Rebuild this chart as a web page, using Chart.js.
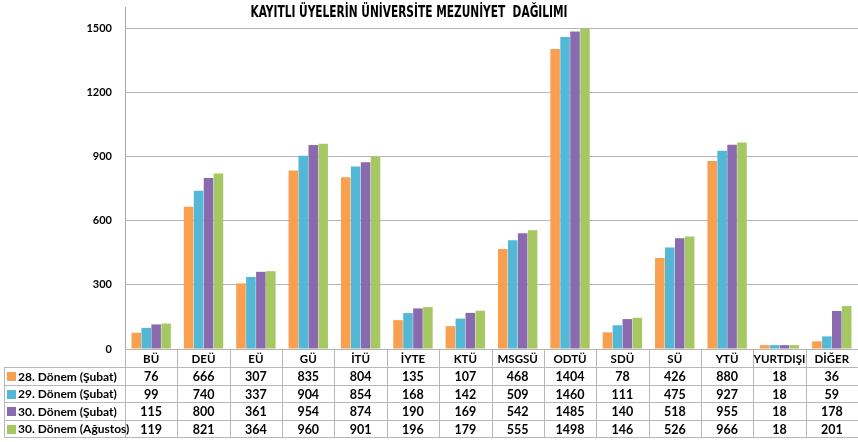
<!DOCTYPE html>
<html>
<head>
<meta charset="utf-8">
<script src="https://cdn.jsdelivr.net/npm/chart.js@4.4.0/dist/chart.umd.min.js"></script>
<style>
html,body{margin:0;padding:0;background:#fff;}
#wrap{width:858px;height:442px;position:relative;}
</style>
</head>
<body>
<div id="wrap"><canvas id="c" width="858" height="442"></canvas></div>
<script>
const title = "KAYITLI ÜYELERİN ÜNİVERSİTE MEZUNİYET  DAĞILIMI";
const categories = ["BÜ","DEÜ","EÜ","GÜ","İTÜ","İYTE","KTÜ","MSGSÜ","ODTÜ","SDÜ","SÜ","YTÜ","YURTDIŞI","DİĞER"];
const seriesNames = ["28. Dönem (Şubat)","29. Dönem (Şubat)","30. Dönem (Şubat)","30. Dönem (Ağustos)"];
const donem28Subat = [76,666,307,835,804,135,107,468,1404,78,426,880,18,36];
const donem29Subat = [99,740,337,904,854,168,142,509,1460,111,475,927,18,59];
const donem30Subat = [115,800,361,954,874,190,169,542,1485,140,518,955,18,178];
const donem30Agustos = [119,821,364,960,901,196,179,555,1498,146,526,966,18,201];
const yTicks = [0,300,600,900,1200,1500];
const colors = ["#F9A050","#52B8D6","#8A6AAE","#A6C862"];

const allSeries = [donem28Subat,donem29Subat,donem30Subat,donem30Agustos];
const FONT = "Lato, 'Open Sans', sans-serif";

const tablePlugin = {
  id: 'dataTable',
  afterDraw(chart) {
    const ctx = chart.ctx;
    const ca = chart.chartArea;
    const n = categories.length;
    const w = (ca.right - ca.left) / n;
    const top = ca.bottom;
    const rowTops = [top, 367, 385, 402, 420, 437];
    ctx.save();
    ctx.strokeStyle = "#b8b8b8";
    ctx.lineWidth = 1;
    for (let r = 1; r < rowTops.length; r++) {
      ctx.beginPath();
      ctx.moveTo(4, Math.round(rowTops[r]) + 0.5);
      ctx.lineTo(ca.right, Math.round(rowTops[r]) + 0.5);
      ctx.stroke();
    }
    for (let i = 0; i <= n; i++) {
      const x = Math.round(ca.left + i * w) + 0.5;
      ctx.beginPath();
      ctx.moveTo(x, top);
      ctx.lineTo(x, rowTops[5]);
      ctx.stroke();
    }
    ctx.beginPath();
    ctx.moveTo(4.5, rowTops[1]);
    ctx.lineTo(4.5, rowTops[5]);
    ctx.stroke();
    ctx.fillStyle = "#000";
    ctx.textAlign = "center";
    ctx.textBaseline = "middle";
    ctx.font = "bold 11.5px " + FONT;
    for (let i = 0; i < n; i++) {
      const cx = chart.scales.x.getPixelForValue(i);
      ctx.fillText(categories[i], cx, (rowTops[0] + rowTops[1]) / 2 + 1);
    }
    for (let s = 0; s < allSeries.length; s++) {
      const cy = (rowTops[s + 1] + rowTops[s + 2]) / 2 + 1;
      ctx.font = "bold 12.5px " + FONT;
      ctx.fillStyle = "#000";
      for (let i = 0; i < n; i++) {
        const cx = chart.scales.x.getPixelForValue(i);
        ctx.textAlign = "center";
        ctx.fillText(String(allSeries[s][i]), cx, cy);
      }
      ctx.fillStyle = colors[s];
      ctx.fillRect(7, Math.round(cy - 5), 9, 9);
      ctx.fillStyle = "#000";
      ctx.textAlign = "left";
      ctx.font = "bold 12px " + FONT;
      ctx.fillText(seriesNames[s], 18, cy);
    }
    ctx.font = "bold 15px 'Liberation Sans Narrow', 'DejaVu Sans Condensed', sans-serif";
    const tw = ctx.measureText(title).width;
    const target = 317;
    ctx.translate(409, 13);
    ctx.scale(target / tw, 1);
    ctx.textAlign = "center";
    ctx.fillStyle = "#000";
    ctx.fillText(title, 0, 0);
    ctx.restore();
  }
};

new Chart(document.getElementById('c'), {
  type: 'bar',
  data: {
    labels: categories,
    datasets: allSeries.map((d, i) => ({
      label: seriesNames[i],
      data: d,
      backgroundColor: colors[i],
      borderWidth: 0,
      barPercentage: 0.96,
      categoryPercentage: 0.76
    }))
  },
  options: {
    responsive: false,
    animation: false,
    devicePixelRatio: 1,
    layout: { padding: { top: 7, bottom: 93, left: 0, right: 0 } },
    plugins: { legend: { display: false }, tooltip: { enabled: false }, title: { display: false } },
    scales: {
      x: { display: false },
      y: {
        min: 0,
        max: 1600,
        afterFit(scale) { scale.width = 125; scale.paddingTop = 0; scale.paddingBottom = 0; },
        afterBuildTicks(scale) { scale.ticks = yTicks.map(v => ({ value: v })); },
        ticks: {
          padding: 13,
          color: "#000",
          font: { family: FONT, weight: "bold", size: 11 },
          callback: (v) => String(v)
        },
        grid: { color: "#b4b4b4", drawTicks: false, lineWidth: 1 },
        border: { display: true, color: "#a8a8a8" }
      }
    }
  },
  plugins: [tablePlugin]
});
</script>
</body>
</html>
